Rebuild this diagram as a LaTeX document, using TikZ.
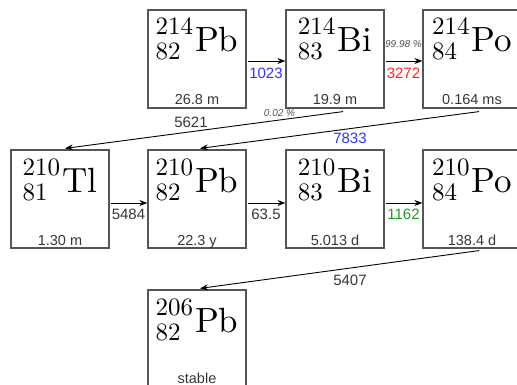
\documentclass[tikz,border=0pt]{standalone}
\usepackage{fontspec}
\setsansfont{Liberation Sans}
\newfontfamily\nucfont{lmroman10-regular.otf}
\usetikzlibrary{calc,arrows.meta}
\definecolor{boxgray}{RGB}{85,85,85}
\definecolor{txtgray}{RGB}{55,55,55}
\definecolor{pctgray}{RGB}{80,80,80}
\definecolor{lblblue}{RGB}{50,50,255}
\definecolor{lblred}{RGB}{255,35,35}
\definecolor{lblgreen}{RGB}{40,150,40}
\newcommand{\nucsym}[3]{\nucfont{\fontsize{25}{25}\selectfont\rlap{\raisebox{17pt}{#1}}\rlap{\raisebox{-8pt}{#2}}\phantom{#1}}\kern2pt{\fontsize{35}{40}\selectfont #3}}
\begin{document}
\begin{tikzpicture}[x=1pt,y=-1pt,
  nbox/.style={draw=boxgray, line width=1.2pt, minimum width=98pt, minimum height=98pt, inner sep=0pt},
  nuc/.style={inner sep=0pt, anchor=base},
  half/.style={inner sep=0pt, anchor=base, font=\sffamily\fontsize{14.5}{16}\selectfont, text=txtgray},
  lbl/.style={inner sep=0pt, anchor=base, font=\sffamily\fontsize{15}{17}\selectfont, text=txtgray},
  pct/.style={inner sep=0pt, anchor=base, font=\sffamily\itshape\fontsize{10}{12}\selectfont, text=pctgray},
  arr/.style={-{Stealth[length=8pt,width=6pt]}, line width=0.9pt, black}
]
\path[use as bounding box] (0,0) rectangle (517,385);
\clip (0,0) rectangle (517,385);
% boxes
\node[nbox] (pbA) at (197,59) {};
\node[nbox] (biA) at (335,59) {};
\node[nbox] (poA) at (472,59) {};
\node[nbox] (tl)  at (60,199) {};
\node[nbox] (pbB) at (197,199) {};
\node[nbox] (biB) at (335,199) {};
\node[nbox] (poB) at (472,199) {};
\node[nbox] (pbC) at (197,339) {};
% nuclides
\node[nuc] (pbAn) at ($(pbA.north)+(0,42)$) {\nucsym{214}{82}{Pb}};
\node[nuc] (biAn) at ($(biA.north)+(0,42)$) {\nucsym{214}{83}{Bi}};
\node[nuc] (poAn) at ($(poA.north)+(0,42)$) {\nucsym{214}{84}{Po}};
\node[nuc] (tln)  at ($(tl.north)+(0,43)$)  {\nucsym{210}{81}{Tl}};
\node[nuc] (pbBn) at ($(pbB.north)+(0,43)$) {\nucsym{210}{82}{Pb}};
\node[nuc] (biBn) at ($(biB.north)+(0,43)$) {\nucsym{210}{83}{Bi}};
\node[nuc] (poBn) at ($(poB.north)+(0,43)$) {\nucsym{210}{84}{Po}};
\node[nuc] (pbCn) at ($(pbC.north)+(0,43)$) {\nucsym{206}{82}{Pb}};
% half-lives
\node[half] (pbAh) at ($(pbA.south)+(0,-4)$) {26.8 m};
\node[half] (biAh) at ($(biA.south)+(0,-4)$) {19.9 m};
\node[half] (poAh) at ($(poA.south)+(0,-4)$) {0.164 ms};
\node[half] (tlh)  at ($(tl.south)+(0,-3)$)  {1.30 m};
\node[half] (pbBh) at ($(pbB.south)+(0,-3)$) {22.3 y};
\node[half] (biBh) at ($(biB.south)+(0,-3)$) {5.013 d};
\node[half] (poBh) at ($(poB.south)+(0,-3)$) {138.4 d};
\node[half] (pbCh) at ($(pbC.south)+(0,-5)$) {stable};
% gap midpoints
\coordinate (g1) at ($(pbA.east)!0.5!(biA.west)$);
\coordinate (g2) at ($(biA.east)!0.5!(poA.west)$);
\coordinate (g3) at ($(tl.east)!0.5!(pbB.west)$);
\coordinate (g4) at ($(pbB.east)!0.5!(biB.west)$);
\coordinate (g5) at ($(biB.east)!0.5!(poB.west)$);
% horizontal arrows
\draw[arr] ($(pbA.east)+(1,2)$) -- ($(biA.west)+(0,2)$);
\draw[arr] ($(biA.east)+(1,2)$) -- ($(poA.west)+(0,2)$);
\draw[arr] ($(tl.east)+(1,4)$) -- ($(pbB.west)+(0,4)$);
\draw[arr] ($(pbB.east)+(1,4)$) -- ($(biB.west)+(0,4)$);
\draw[arr] ($(biB.east)+(1,4)$) -- ($(poB.west)+(0,4)$);
% labels
\node[lbl, text=lblblue] (e1) at ($(g1)+(0,20)$) {1023};
\node[pct] (p1) at ($(g2)+(0,-11)$) {99.98 \%};
\node[lbl, text=lblred] (e2) at ($(g2)+(0,20)$) {3272};
\node[lbl] (e3) at ($(g3)+(0,20)$) {5484};
\node[lbl] (e4) at ($(g4)+(0,20)$) {63.5};
\node[lbl, text=lblgreen] (e5) at ($(g5)+(0,20)$) {1162};
% diagonal arrows
\draw[arr] ($(biA.south)+(8,3)$) -- ($(tl.north)+(5,-1)$);
\draw[arr] ($(poA.south)+(7,3)$) -- ($(pbB.north)+(3,-1)$);
\draw[arr] ($(poB.south)+(7,2)$) -- ($(pbC.north)+(3,-1)$);
\node[pct] (p2) at (279.5,117) {0.02 \%};
\node[lbl] (e6) at (191,128) {5621};
\node[lbl, text=lblblue] (e7) at (350,144) {7833};
\node[lbl] (e8) at (350,285) {5407};
\end{tikzpicture}
\end{document}
